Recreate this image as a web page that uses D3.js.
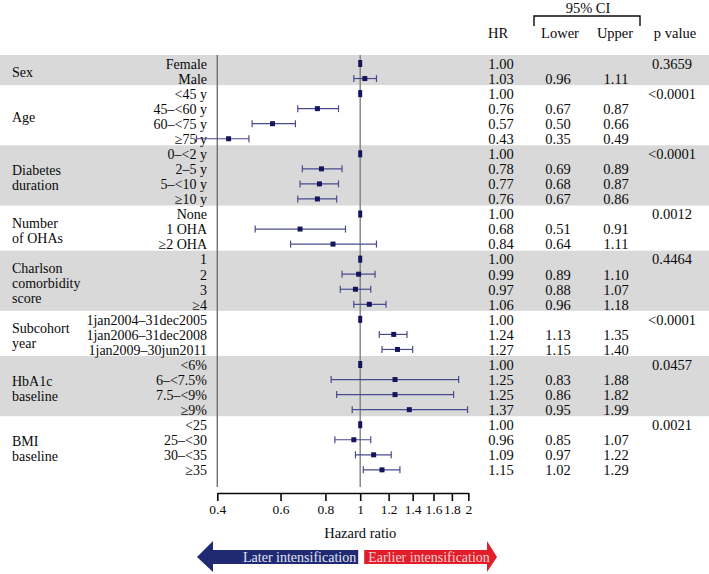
<!DOCTYPE html>
<html><head><meta charset="utf-8">
<script src="https://cdn.jsdelivr.net/npm/d3@7"></script>
<style>body{margin:0;background:#fff}svg{display:block}text{font-family:"Liberation Serif","Times New Roman",serif;}</style>
</head><body>
<script>
const groupNames = [["Sex"],["Age"],["Diabetes","duration"],["Number","of OHAs"],["Charlson","comorbidity","score"],["Subcohort","year"],["HbA1c","baseline"],["BMI","baseline"]];
const groupSizes = [2,4,4,3,4,3,4,4];
const pValues = ["0.3659","<0.0001","<0.0001","0.0012","0.4464","<0.0001","0.0457","0.0021"];
const categories = ["Female","Male","<45 y","45–<60 y","60–<75 y","≥75 y","0–<2 y","2–5 y","5–<10 y","≥10 y","None","1 OHA","≥2 OHA","1","2","3","≥4","1jan2004–31dec2005","1jan2006–31dec2008","1jan2009–30jun2011","<6%","6–<7.5%","7.5–<9%","≥9%","<25","25–<30","30–<35","≥35"];
const hr =    [1.00,1.03, 1.00,0.76,0.57,0.43, 1.00,0.78,0.77,0.76, 1.00,0.68,0.84, 1.00,0.99,0.97,1.06, 1.00,1.24,1.27, 1.00,1.25,1.25,1.37, 1.00,0.96,1.09,1.15];
const lower = [null,0.96, null,0.67,0.50,0.35, null,0.69,0.68,0.67, null,0.51,0.64, null,0.89,0.88,0.96, null,1.13,1.15, null,0.83,0.86,0.95, null,0.85,0.97,1.02];
const upper = [null,1.11, null,0.87,0.66,0.49, null,0.89,0.87,0.86, null,0.91,1.11, null,1.10,1.07,1.18, null,1.35,1.40, null,1.88,1.82,1.99, null,1.07,1.22,1.29];
const tickValues = [0.4,0.6,0.8,1,1.2,1.4,1.6,1.8,2];
const headers = ["HR","Lower","Upper","p value"];

const W=709,H=574;
const svg=d3.select("body").append("svg").attr("width",W).attr("height",H);
const x=d3.scaleLog().domain([0.4,2]).range([217.3,468.3]);
const top0=55, rowH=15.05;
const rowTop=i=>top0+i*rowH;
const fs=14, fsN=14.5;
const colHR=501,colLo=558,colUp=616,colP=672;
const ink="#0a0a0a";

let start=0;
const groups=groupSizes.map((n,g)=>{const o={g,start,n};start+=n;return o;});
groups.forEach(o=>{
  if(o.g%2===0){
    svg.append("rect").attr("x",0).attr("width",W).attr("y",rowTop(o.start)).attr("height",o.n*rowH).attr("fill","#d9d9d9");
  }
});
const lineBottom=487;
svg.append("line").attr("x1",x(0.4)).attr("x2",x(0.4)).attr("y1",top0).attr("y2",lineBottom).attr("stroke","#707070").attr("stroke-width",1.4);
svg.append("line").attr("x1",x(1)).attr("x2",x(1)).attr("y1",top0).attr("y2",lineBottom).attr("stroke","#808080").attr("stroke-width",1.4);

groups.forEach(o=>{
  const lines=groupNames[o.g];
  const c=rowTop(o.start)+o.n*rowH/2+2;
  lines.forEach((t,k)=>{
    const vc=c+(k-(lines.length-1)/2)*15;
    svg.append("text").attr("x",12).attr("y",vc+5).attr("font-size",fs).attr("fill",ink).text(t);
  });
  svg.append("text").attr("x",colP).attr("y",rowTop(o.start)+13.8).attr("text-anchor","middle").attr("font-size",fsN).attr("fill",ink).text(pValues[o.g]);
});

const fmt=d3.format(".2f");
categories.forEach((c,i)=>{
  const by=rowTop(i)+13.8;
  svg.append("text").attr("x",207).attr("y",by).attr("text-anchor","end").attr("font-size",fs).attr("fill",ink).text(c);
  svg.append("text").attr("x",colHR).attr("y",by).attr("text-anchor","middle").attr("font-size",fsN).attr("fill",ink).text(fmt(hr[i]));
  if(lower[i]!=null){
    svg.append("text").attr("x",colLo).attr("y",by).attr("text-anchor","middle").attr("font-size",fsN).attr("fill",ink).text(fmt(lower[i]));
    svg.append("text").attr("x",colUp).attr("y",by).attr("text-anchor","middle").attr("font-size",fsN).attr("fill",ink).text(fmt(upper[i]));
  }
  const cy=rowTop(i)+8.5;
  if(lower[i]!=null){
    const g=svg.append("g").attr("stroke","#4a4a8e").attr("stroke-width",1.2);
    g.append("line").attr("x1",x(lower[i])).attr("x2",x(upper[i])).attr("y1",cy).attr("y2",cy);
    g.append("line").attr("x1",x(lower[i])).attr("x2",x(lower[i])).attr("y1",cy-3.5).attr("y2",cy+3.5);
    g.append("line").attr("x1",x(upper[i])).attr("x2",x(upper[i])).attr("y1",cy-3.5).attr("y2",cy+3.5);
    svg.append("rect").attr("x",x(hr[i])-2.5).attr("y",cy-2.5).attr("width",5).attr("height",5).attr("fill","#15155c");
  } else {
    svg.append("rect").attr("x",x(hr[i])-2).attr("y",cy-3.5).attr("width",4).attr("height",7).attr("fill","#15155c");
  }
});

svg.append("text").attr("x",588).attr("y",13).attr("text-anchor","middle").attr("font-size",fsN).attr("fill",ink).text("95% CI");
svg.append("path").attr("d","M534,26V16H640V26").attr("fill","none").attr("stroke",ink).attr("stroke-width",1.4);
[[498,headers[0]],[560,headers[1]],[615,headers[2]],[675,headers[3]]].forEach(([hx,t])=>{
  svg.append("text").attr("x",hx).attr("y",37.5).attr("text-anchor","middle").attr("font-size",fsN).attr("fill",ink).text(t);
});

const axisY=493;
const ax=svg.append("g").attr("transform",`translate(0,${axisY})`)
  .call(d3.axisBottom(x).tickValues(tickValues).tickFormat(d3.format("~g")).tickSize(8).tickSizeOuter(0).tickPadding(3));
ax.select(".domain").attr("stroke",ink).attr("stroke-width",1.6);
ax.selectAll(".tick line").attr("stroke",ink).attr("stroke-width",1.6);
ax.selectAll(".tick text").attr("font-size",13.5).attr("fill",ink).style("font-size","13.5px");
svg.append("text").attr("x",x(1)).attr("y",538).attr("text-anchor","middle").attr("font-size",fsN).attr("fill",ink).text("Hazard ratio");

const x1=x(1);
const bT=550,bB=564,hT=541,hB=572,mY=557;
svg.append("path").attr("d",`M197,${mY}L213,${hT}L213,${bT}L${x1-2},${bT}L${x1-2},${bB}L213,${bB}L213,${hB}Z`).attr("fill","#1f2a73");
svg.append("path").attr("d",`M${x1+4},${bT}L487,${bT}L487,${hT}L497,${mY}L487,${hB}L487,${bB}L${x1+4},${bB}Z`).attr("fill","#e21e2b");
svg.append("text").attr("x",x1-4).attr("y",562).attr("text-anchor","end").attr("font-size",fs).attr("fill","#e4e4f2").text("Later intensification");
svg.append("text").attr("x",x1+8).attr("y",562).attr("font-size",fs).attr("fill","#f8d0d0").text("Earlier intensification");
</script>
</body></html>
